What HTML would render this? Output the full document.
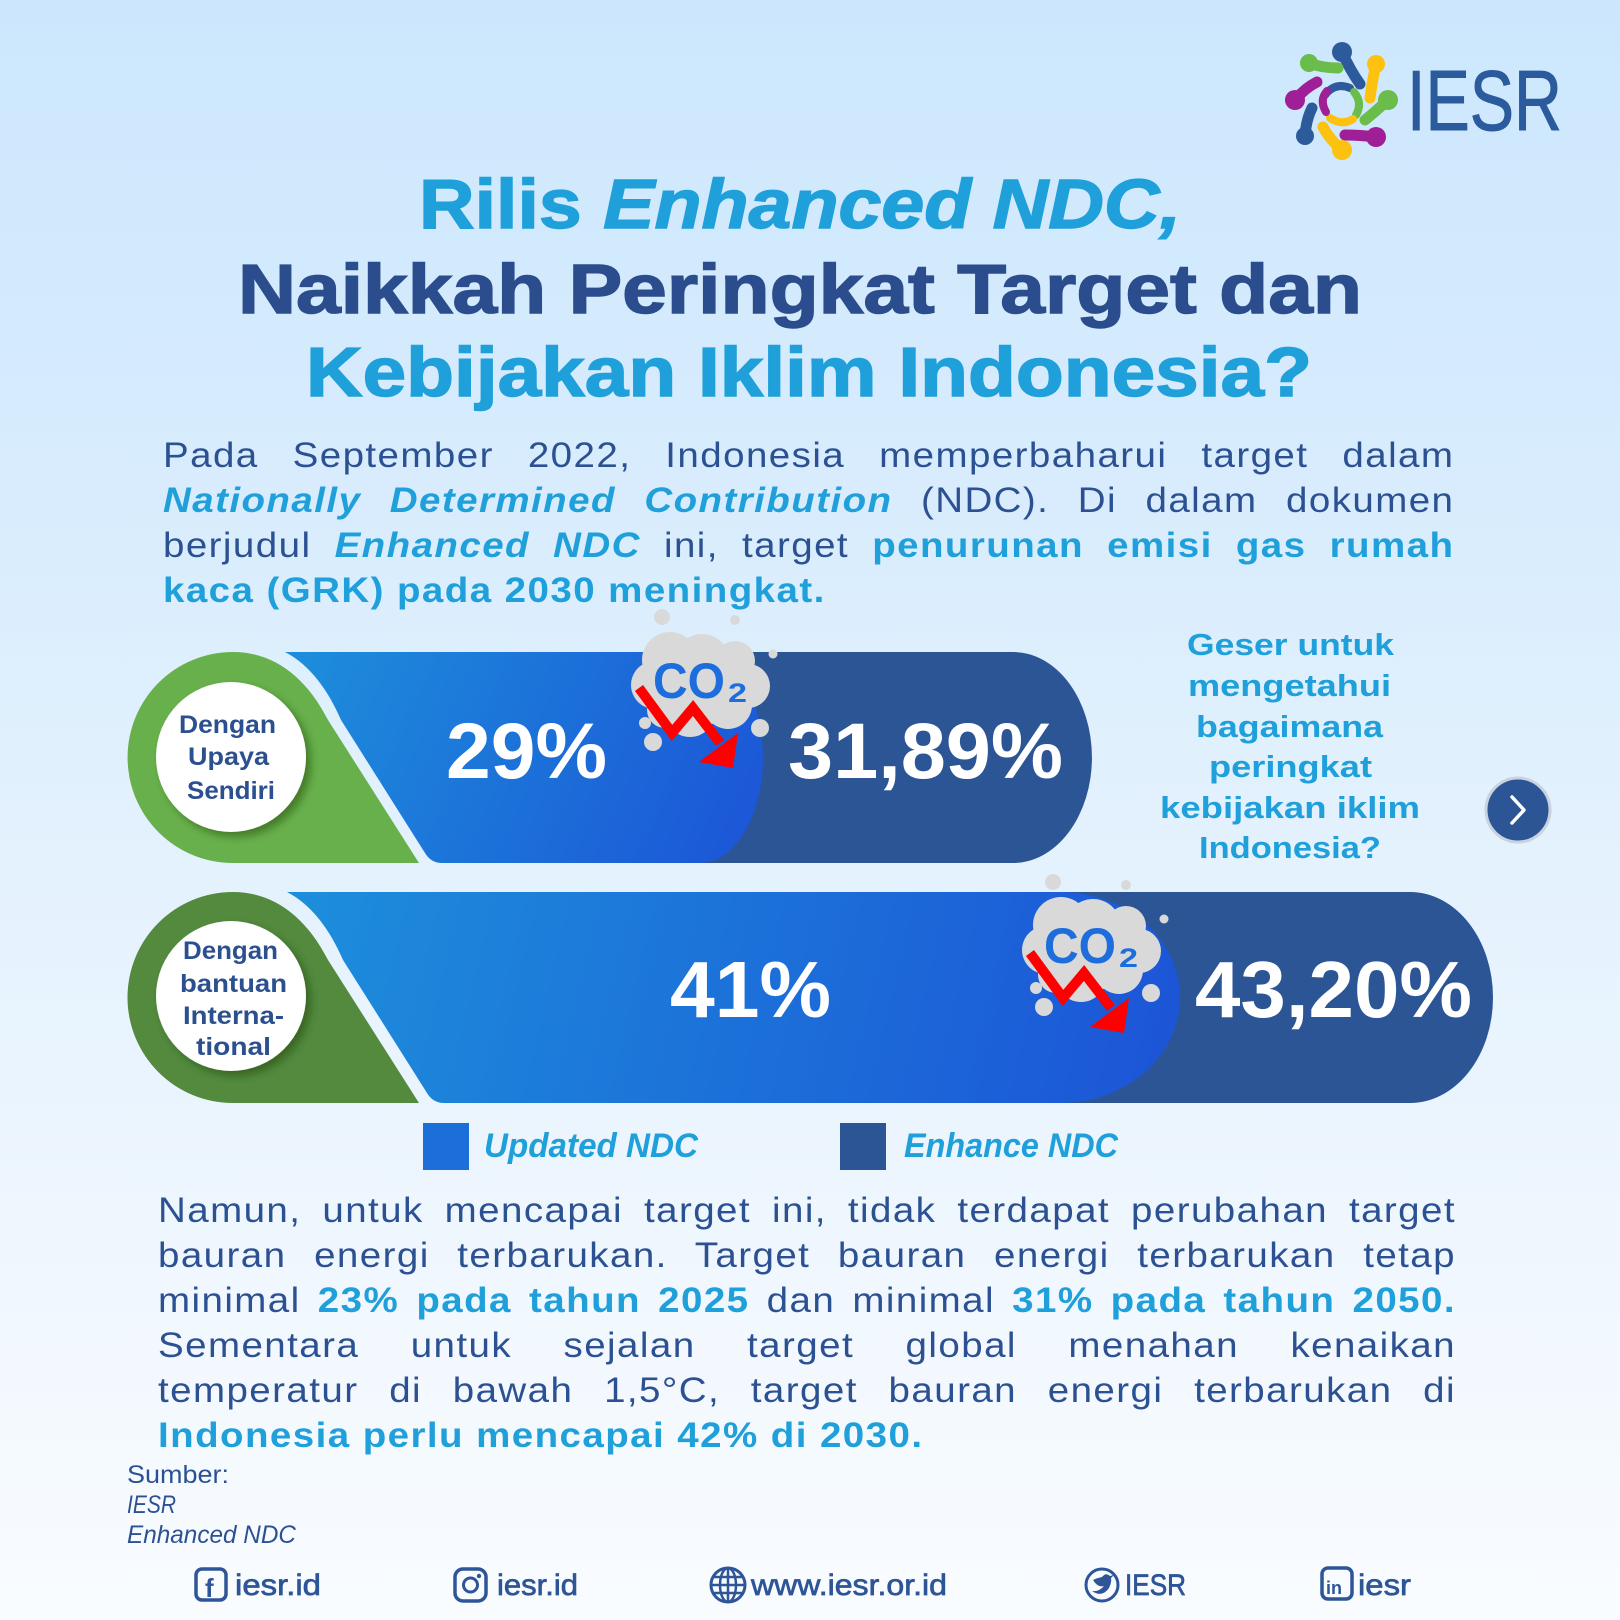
<!DOCTYPE html>
<html><head><meta charset="utf-8">
<style>
html,body{margin:0;padding:0;}
body{width:1620px;height:1620px;position:relative;overflow:hidden;background:linear-gradient(180deg,#cce7fd 0%,#d8ecfd 30%,#e2f1fd 50%,#eef6fe 75%,#f9fcff 100%);font-family:"Liberation Sans",Arial,sans-serif;}
svg{position:absolute;left:0;top:0;}
.ln{position:absolute;font-size:35px;line-height:45px;height:45px;letter-spacing:1.3px;color:#2c5193;text-align:justify;text-align-last:justify;transform:scaleX(1.1);transform-origin:0 0;}
.b{font-weight:bold;color:#1fa0da;}
.bi{font-weight:bold;font-style:italic;color:#1fa0da;}
</style></head>
<body>
<svg width="1620" height="1620" viewBox="0 0 1620 1620" xmlns="http://www.w3.org/2000/svg" font-family="Liberation Sans, Arial, sans-serif">
<defs>
<linearGradient id="g1" gradientUnits="userSpaceOnUse" x1="290" y1="652" x2="760" y2="863">
<stop offset="0" stop-color="#1d8edb"/><stop offset="1" stop-color="#1c54d7"/></linearGradient>
<linearGradient id="g2" gradientUnits="userSpaceOnUse" x1="290" y1="892" x2="1180" y2="1103">
<stop offset="0" stop-color="#1d8edb"/><stop offset="1" stop-color="#1c54d7"/></linearGradient>
<filter id="sh" x="-20%" y="-20%" width="150%" height="150%"><feDropShadow dx="5" dy="5" stdDeviation="4" flood-color="#1a3a10" flood-opacity="0.45"/></filter>
</defs>

<!-- LOGO -->
<g fill="none" stroke-linecap="round" stroke-width="11">
<path d="M1342 52 Q1350 70 1360 84" stroke="#2c5a9a"/><circle cx="1342" cy="52" r="10" fill="#2c5a9a" stroke="none"/>
<path d="M1376 64 Q1372 82 1370 98" stroke="#fdc20f"/><circle cx="1376" cy="64" r="9" fill="#fdc20f" stroke="none"/>
<path d="M1388 100 Q1375 112 1365 120" stroke="#6bbd4b"/><circle cx="1388" cy="100" r="10" fill="#6bbd4b" stroke="none"/>
<path d="M1376 137 Q1360 135 1345 135" stroke="#9e1f96"/><circle cx="1376" cy="137" r="10" fill="#9e1f96" stroke="none"/>
<path d="M1342 150 Q1330 140 1323 127" stroke="#fdc20f"/><circle cx="1342" cy="150" r="10" fill="#fdc20f" stroke="none"/>
<path d="M1305 136 Q1306 120 1312 108" stroke="#2c5a9a"/><circle cx="1305" cy="136" r="9" fill="#2c5a9a" stroke="none"/>
<path d="M1295 100 Q1305 88 1317 82" stroke="#9e1f96"/><circle cx="1295" cy="100" r="10" fill="#9e1f96" stroke="none"/>
<path d="M1309 63 Q1322 68 1338 68" stroke="#6bbd4b"/><circle cx="1309" cy="63" r="9" fill="#6bbd4b" stroke="none"/>
<path d="M1325 95 Q1335 82 1350 88" stroke="#2c5a9a" stroke-width="8"/>
<path d="M1354 92 Q1363 103 1356 115" stroke="#6bbd4b" stroke-width="8"/>
<path d="M1353 119 Q1342 126 1330 118" stroke="#fdc20f" stroke-width="8"/>
<path d="M1326 112 Q1319 100 1327 91" stroke="#9e1f96" stroke-width="8"/>
</g>
<text x="1407" y="130" font-size="85" fill="#2b5b9c" stroke="#2b5b9c" stroke-width="1" textLength="155" lengthAdjust="spacingAndGlyphs">IESR</text>

<!-- TITLE -->
<text x="419" y="228" font-size="70" font-weight="bold" fill="#1fa0da" stroke="#1fa0da" stroke-width="1.4" textLength="762" lengthAdjust="spacingAndGlyphs">Rilis <tspan font-style="italic">Enhanced NDC,</tspan></text>
<text x="238" y="313" font-size="70" font-weight="bold" fill="#2b4d8d" stroke="#2b4d8d" stroke-width="1.4" textLength="1124" lengthAdjust="spacingAndGlyphs">Naikkah Peringkat Target dan</text>
<text x="306" y="396" font-size="70" font-weight="bold" fill="#1fa0da" stroke="#1fa0da" stroke-width="1.4" textLength="1006" lengthAdjust="spacingAndGlyphs">Kebijakan Iklim Indonesia?</text>

<!-- TOP BAR -->
<path d="M600 652 H1013 A79 105.5 0 0 1 1013 863 H600 Z" fill="#2c5596"/>
<path d="M285 652 H700 A63 105.5 0 0 1 700 863 H442 Q431 863 425 853 L341 720 C328 690 310 665 285 652 Z" fill="url(#g1)"/>
<path d="M233 652 C272 652 305 675 328 720 L419 863 H233 A105.5 105.5 0 0 1 233 652 Z" fill="#68b04b"/>
<circle cx="231" cy="757" r="75" fill="#ffffff" filter="url(#sh)"/>
<g font-size="25" font-weight="bold" fill="#2b4f8f">
<text x="179" y="733" textLength="97" lengthAdjust="spacingAndGlyphs">Dengan</text>
<text x="188" y="765" textLength="81" lengthAdjust="spacingAndGlyphs">Upaya</text>
<text x="187" y="799" textLength="88" lengthAdjust="spacingAndGlyphs">Sendiri</text>
</g>
<g font-size="79" font-weight="bold" fill="#ffffff">
<text x="446" y="778" textLength="161" lengthAdjust="spacingAndGlyphs">29%</text>
<text x="788" y="778" textLength="275" lengthAdjust="spacingAndGlyphs">31,89%</text>
</g>

<!-- BOTTOM BAR -->
<path d="M1000 892 H1410 A83 105.5 0 0 1 1410 1103 H1000 Z" fill="#2c5596"/>
<path d="M287 892 H1060 A120 105.5 0 0 1 1060 1103 H444 Q433 1103 427 1093 L343 960 C330 930 312 905 287 892 Z" fill="url(#g2)"/>
<path d="M233 892 C272 892 305 915 328 960 L419 1103 H233 A105.5 105.5 0 0 1 233 892 Z" fill="#538a3e"/>
<circle cx="231" cy="996" r="75" fill="#ffffff" filter="url(#sh)"/>
<g font-size="25" font-weight="bold" fill="#2b4f8f">
<text x="183" y="959" textLength="95" lengthAdjust="spacingAndGlyphs">Dengan</text>
<text x="180" y="992" textLength="107" lengthAdjust="spacingAndGlyphs">bantuan</text>
<text x="183" y="1024" textLength="101" lengthAdjust="spacingAndGlyphs">Interna-</text>
<text x="196" y="1055" textLength="75" lengthAdjust="spacingAndGlyphs">tional</text>
</g>
<g font-size="80" font-weight="bold" fill="#ffffff">
<text x="670" y="1017" textLength="161" lengthAdjust="spacingAndGlyphs">41%</text>
<text x="1195" y="1017" textLength="277" lengthAdjust="spacingAndGlyphs">43,20%</text>
</g>

<!-- CO2 clouds -->
<g>
<g fill="#d9d9d9">
<ellipse cx="700" cy="690" rx="50" ry="35"/>
<circle cx="670" cy="660" r="28"/><circle cx="702" cy="662" r="28"/><circle cx="735" cy="661" r="20"/>
<circle cx="748" cy="686" r="22"/><circle cx="655" cy="685" r="24"/><circle cx="665" cy="710" r="18"/>
<circle cx="690" cy="712" r="25"/><circle cx="728" cy="705" r="24"/>
<circle cx="662" cy="617" r="8"/><circle cx="735" cy="620" r="5"/><circle cx="773" cy="654" r="4.5"/>
<circle cx="645" cy="723" r="6"/><circle cx="653" cy="742" r="9"/><circle cx="760" cy="728" r="9"/>
</g>
<text x="653" y="698" font-size="50" font-weight="bold" fill="#1d6ddc" textLength="72" lengthAdjust="spacingAndGlyphs">CO</text>
<text x="728" y="702" font-size="27" font-weight="bold" fill="#1d6ddc" textLength="19" lengthAdjust="spacingAndGlyphs">2</text>
<polyline points="639,688 672,733 693,708 720,743" fill="none" stroke="#ff0000" stroke-width="10" stroke-linejoin="miter"/>
<polygon points="699,762 738,733 733,768" fill="#ff0000"/>
</g>
<g transform="translate(391,265)">
<g fill="#d9d9d9">
<ellipse cx="700" cy="690" rx="50" ry="35"/>
<circle cx="670" cy="660" r="28"/><circle cx="702" cy="662" r="28"/><circle cx="735" cy="661" r="20"/>
<circle cx="748" cy="686" r="22"/><circle cx="655" cy="685" r="24"/><circle cx="665" cy="710" r="18"/>
<circle cx="690" cy="712" r="25"/><circle cx="728" cy="705" r="24"/>
<circle cx="662" cy="617" r="8"/><circle cx="735" cy="620" r="5"/><circle cx="773" cy="654" r="4.5"/>
<circle cx="645" cy="723" r="6"/><circle cx="653" cy="742" r="9"/><circle cx="760" cy="728" r="9"/>
</g>
<text x="653" y="698" font-size="50" font-weight="bold" fill="#1d6ddc" textLength="72" lengthAdjust="spacingAndGlyphs">CO</text>
<text x="728" y="702" font-size="27" font-weight="bold" fill="#1d6ddc" textLength="19" lengthAdjust="spacingAndGlyphs">2</text>
<polyline points="639,688 672,733 693,708 720,743" fill="none" stroke="#ff0000" stroke-width="10" stroke-linejoin="miter"/>
<polygon points="699,762 738,733 733,768" fill="#ff0000"/>
</g>

<!-- Geser text -->
<g font-size="31" font-weight="bold" fill="#1fa0da">
<text x="1187" y="655" textLength="207" lengthAdjust="spacingAndGlyphs">Geser untuk</text>
<text x="1188" y="696" textLength="203" lengthAdjust="spacingAndGlyphs">mengetahui</text>
<text x="1196" y="737" textLength="187" lengthAdjust="spacingAndGlyphs">bagaimana</text>
<text x="1209" y="777" textLength="163" lengthAdjust="spacingAndGlyphs">peringkat</text>
<text x="1160" y="818" textLength="260" lengthAdjust="spacingAndGlyphs">kebijakan iklim</text>
<text x="1199" y="858" textLength="182" lengthAdjust="spacingAndGlyphs">Indonesia?</text>
</g>
<circle cx="1518" cy="810" r="32" fill="#2c5596" stroke="#c9d3df" stroke-width="3"/>
<polyline points="1512,797 1524,810 1512,823" fill="none" stroke="#ffffff" stroke-width="3.5" stroke-linecap="round" stroke-linejoin="round"/>

<!-- Legend -->
<rect x="423" y="1123" width="46" height="47" fill="#1c6ed8"/>
<text x="484" y="1157" font-size="34" font-weight="bold" font-style="italic" fill="#1fa0da" textLength="214" lengthAdjust="spacingAndGlyphs">Updated NDC</text>
<rect x="840" y="1123" width="46" height="47" fill="#2c5596"/>
<text x="904" y="1157" font-size="34" font-weight="bold" font-style="italic" fill="#1fa0da" textLength="214" lengthAdjust="spacingAndGlyphs">Enhance NDC</text>

<!-- Sumber -->
<g font-size="25" fill="#2c5193">
<text x="127" y="1483" textLength="102" lengthAdjust="spacingAndGlyphs">Sumber:</text>
<text x="127" y="1513" font-style="italic" textLength="49" lengthAdjust="spacingAndGlyphs">IESR</text>
<text x="127" y="1543" font-style="italic" textLength="169" lengthAdjust="spacingAndGlyphs">Enhanced NDC</text>
</g>

<!-- Footer -->
<g fill="none" stroke="#2d5597" stroke-width="3.5">
<rect x="196" y="1569" width="30" height="31" rx="6"/>
<rect x="455" y="1569" width="31" height="32" rx="8"/>
<circle cx="470.5" cy="1585" r="7" stroke-width="3"/>
<circle cx="728" cy="1585" r="17" stroke-width="3"/>
<ellipse cx="728" cy="1585" rx="8" ry="17" stroke-width="2.5"/>
<line x1="711" y1="1585" x2="745" y2="1585" stroke-width="2.5"/>
<line x1="714" y1="1577" x2="742" y2="1577" stroke-width="2.5"/>
<line x1="714" y1="1593" x2="742" y2="1593" stroke-width="2.5"/>
<line x1="728" y1="1568" x2="728" y2="1602" stroke-width="2.5"/>
<circle cx="1102" cy="1585" r="16" stroke-width="3"/>
<rect x="1322" y="1568" width="30" height="31" rx="6"/>
</g>
<circle cx="479" cy="1576" r="2.2" fill="#2d5597"/>
<path d="M1093 1580 Q1098 1588 1104 1586 Q1099 1592 1092 1591 Q1102 1598 1109 1588 Q1112 1582 1111 1578 L1114 1575 L1110 1576 Q1106 1572 1102 1577 Q1097 1578 1093 1580 Z" fill="#2d5597"/>
<text x="205" y="1597" font-size="26" font-weight="bold" fill="#2d5597">f</text>
<text x="1326" y="1594" font-size="18" font-weight="bold" fill="#2d5597">in</text>
<g font-size="30" fill="#2d5597" stroke="#2d5597" stroke-width="0.7">
<text x="235" y="1595" textLength="86" lengthAdjust="spacingAndGlyphs">iesr.id</text>
<text x="497" y="1595" textLength="81" lengthAdjust="spacingAndGlyphs">iesr.id</text>
<text x="751" y="1595" textLength="196" lengthAdjust="spacingAndGlyphs">www.iesr.or.id</text>
<text x="1125" y="1595" textLength="61" lengthAdjust="spacingAndGlyphs">IESR</text>
<text x="1358" y="1595" textLength="53" lengthAdjust="spacingAndGlyphs">iesr</text>
</g>
</svg>

<!-- Paragraph 1 (inner width = target/1.1) -->
<div class="ln" style="left:163px;top:433px;width:1174px;">Pada September 2022, Indonesia memperbaharui target dalam</div>
<div class="ln" style="left:163px;top:478px;width:1174px;"><span class="bi">Nationally Determined Contribution</span> (NDC). Di dalam dokumen</div>
<div class="ln" style="left:163px;top:523px;width:1174px;">berjudul <span class="bi">Enhanced NDC</span> ini, target <span class="b">penurunan emisi gas rumah</span></div>
<div class="ln" style="left:163px;top:568px;width:1174px;text-align:left;text-align-last:left;"><span class="b">kaca (GRK) pada 2030 meningkat.</span></div>

<!-- Paragraph 2 -->
<div class="ln" style="left:158px;top:1188px;width:1180px;">Namun, untuk mencapai target ini, tidak terdapat perubahan target</div>
<div class="ln" style="left:158px;top:1233px;width:1180px;">bauran energi terbarukan. Target bauran energi terbarukan tetap</div>
<div class="ln" style="left:158px;top:1278px;width:1180px;">minimal <span class="b">23% pada tahun 2025</span> dan minimal <span class="b">31% pada tahun 2050.</span></div>
<div class="ln" style="left:158px;top:1323px;width:1180px;">Sementara untuk sejalan target global menahan kenaikan</div>
<div class="ln" style="left:158px;top:1368px;width:1180px;">temperatur di bawah 1,5°C, target bauran energi terbarukan di</div>
<div class="ln" style="left:158px;top:1413px;width:1180px;text-align:left;text-align-last:left;"><span class="b">Indonesia perlu mencapai 42% di 2030.</span></div>
</body></html>
